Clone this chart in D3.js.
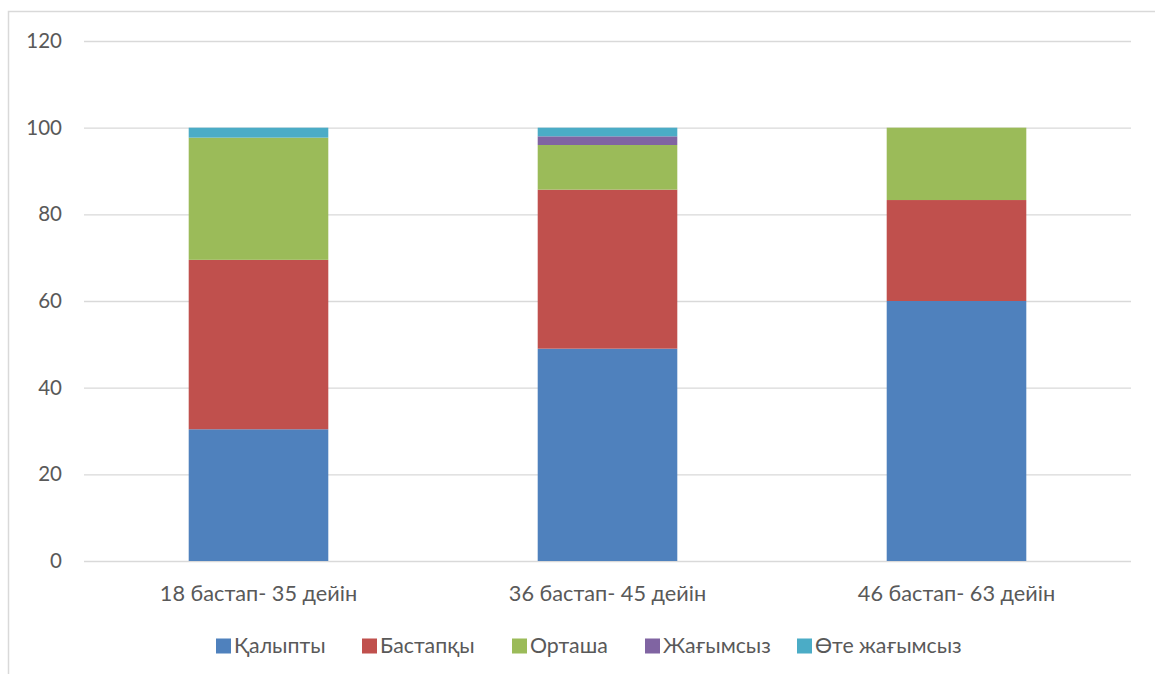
<html>
<head>
    <meta charset="UTF-8">
    <script src="https://d3js.org/d3.v7.min.js"></script>
    <title>Stacked bars</title>
    <style>
        body { margin: 0; background: #fff; }
        text { font-family: Lato, "Open Sans", sans-serif; fill: #595959; }
    </style>
</head>
<body>
    <svg width="1155" height="674"></svg>

    <script>
        // data
        const ageGroups = ['18 бастап- 35 дейін', '36 бастап- 45 дейін', '46 бастап- 63 дейін'];
        const seriesNames = ['Қалыпты', 'Бастапқы', 'Орташа', 'Жағымсыз', 'Өте жағымсыз'];
        const seriesColors = ['#4F81BD', '#C0504D', '#9BBB59', '#8064A2', '#4BACC6'];
        const normal = [30.4, 49.0, 60.0];
        const initial = [39.1, 36.7, 23.3];
        const medium = [28.2, 10.3, 16.7];
        const negative = [0, 2.0, 0];
        const veryNegative = [2.3, 2.0, 0];
        const yTicks = [0, 20, 40, 60, 80, 100, 120];

        const svg = d3.select('svg');

        // chart border (cut at right and bottom like the original)
        svg.append('path')
            .attr('d', 'M8.5,674 V11.5 H1155')
            .attr('fill', 'none')
            .attr('stroke', '#d9d9d9')
            .attr('stroke-width', 1.5);

        const x = d3.scaleBand()
            .domain(ageGroups)
            .range([84, 1131])
            .paddingInner(0.6)
            .paddingOuter(0.3);

        const y = d3.scaleLinear()
            .domain([0, 120])
            .range([561, 41]);

        // gridlines + y labels
        const yAxis = svg.append('g')
            .attr('transform', 'translate(84,0)')
            .call(d3.axisLeft(y).tickValues(yTicks).tickSize(-1047).tickPadding(22));
        yAxis.select('.domain').remove();
        yAxis.selectAll('line').attr('stroke', '#d9d9d9').attr('stroke-width', 1.3);
        yAxis.selectAll('text').style('font-size', '20.5px').attr('fill', '#595959');

        // stack the series
        const table = ageGroups.map(function (g, i) {
            return {
                group: g,
                s0: normal[i], s1: initial[i], s2: medium[i], s3: negative[i], s4: veryNegative[i]
            };
        });
        const stacked = d3.stack().keys(['s0', 's1', 's2', 's3', 's4'])(table);

        svg.append('g')
            .selectAll('g')
            .data(stacked)
            .join('g')
            .attr('fill', function (d, i) { return seriesColors[i]; })
            .selectAll('rect')
            .data(function (d) { return d; })
            .join('rect')
            .attr('x', function (d) { return x(d.data.group); })
            .attr('width', x.bandwidth())
            .attr('y', function (d) { return y(d[1]); })
            .attr('height', function (d) { return y(d[0]) - y(d[1]); });

        // category labels
        svg.append('g')
            .selectAll('text')
            .data(ageGroups)
            .join('text')
            .attr('x', function (d) { return x(d) + x.bandwidth() / 2; })
            .attr('y', 593)
            .attr('dy', '0.35em')
            .attr('text-anchor', 'middle')
            .style('font-size', '21.7px')
            .text(function (d) { return d; });

        // legend
        const legendX = [216, 362, 512, 645, 797];
        const legend = svg.append('g')
            .selectAll('g')
            .data(seriesNames)
            .join('g')
            .attr('transform', function (d, i) { return 'translate(' + legendX[i] + ',646)'; });
        legend.append('rect')
            .attr('x', 0)
            .attr('y', -7.5)
            .attr('width', 15)
            .attr('height', 15)
            .attr('fill', function (d, i) { return seriesColors[i]; });
        legend.append('text')
            .attr('x', 18)
            .attr('dy', '0.35em')
            .style('font-size', '21.3px')
            .text(function (d) { return d; });
    </script>
</body>
</html>
